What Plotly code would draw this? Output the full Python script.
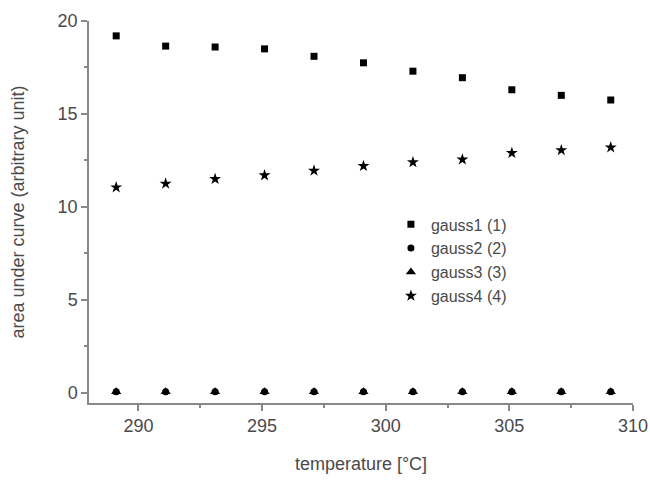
import plotly.graph_objects as go

temperature = [289.1, 291.1, 293.1, 295.1, 297.1, 299.1, 301.1, 303.1, 305.1, 307.1, 309.1]
gauss1 = [19.2, 18.65, 18.6, 18.5, 18.1, 17.75, 17.3, 16.95, 16.3, 16.0, 15.75]
gauss2 = [0.05, 0.05, 0.05, 0.05, 0.05, 0.05, 0.05, 0.05, 0.05, 0.05, 0.05]
gauss3 = [0.05, 0.05, 0.05, 0.05, 0.05, 0.05, 0.05, 0.05, 0.05, 0.05, 0.05]
gauss4 = [11.05, 11.25, 11.5, 11.7, 11.95, 12.2, 12.4, 12.55, 12.9, 13.05, 13.2]

fig = go.Figure()
fig.add_trace(go.Scatter(x=temperature, y=gauss1, mode="markers", name="gauss1 (1)",
                         marker=dict(symbol="square", size=7, color="black")))
fig.add_trace(go.Scatter(x=temperature, y=gauss2, mode="markers", name="gauss2 (2)",
                         marker=dict(symbol="circle", size=7, color="black")))
fig.add_trace(go.Scatter(x=temperature, y=gauss3, mode="markers", name="gauss3 (3)",
                         marker=dict(symbol="triangle-up", size=9, color="black")))
fig.add_trace(go.Scatter(x=temperature, y=gauss4, mode="markers", name="gauss4 (4)",
                         marker=dict(symbol="star", size=9, color="black")))

TXT = "#4a4a4a"
LINE = "#888888"
minor_common = dict(ticks="outside", ticklen=3, tickwidth=1.5, tickcolor=LINE, dtick=2.5)
axis_common = dict(showgrid=False, zeroline=False, showline=True, linecolor=LINE, linewidth=1.5,
                   ticks="outside", ticklen=6, tickwidth=1.5, tickcolor=LINE,
                   tickfont=dict(size=18, color=TXT), automargin=False)

fig.update_layout(
    width=650, height=480,
    margin=dict(l=89, r=17, t=21, b=77),
    paper_bgcolor="white", plot_bgcolor="white",
    font=dict(family="Liberation Sans, Arial, sans-serif", color=TXT),
    xaxis=dict(range=[288, 310], tickvals=[290, 295, 300, 305, 310],
               title=dict(text="temperature [°C]", font=dict(size=18, color=TXT), standoff=22),
               minor=dict(tick0=287.5, **minor_common), **axis_common),
    yaxis=dict(range=[-0.55, 20], tickvals=[0, 5, 10, 15, 20],
               title=dict(text="area under curve (arbitrary unit)", font=dict(size=18, color=TXT), standoff=28),
               minor=dict(tick0=0, **minor_common), **axis_common),
    legend=dict(x=0.555, y=0.512, xanchor="left", yanchor="top", bgcolor="rgba(0,0,0,0)",
                font=dict(size=16, color=TXT), tracegroupgap=0, itemwidth=30),
    showlegend=True,
)

fig.write_html("out.html", config={"displayModeBar": False},
               post_script="document.body.style.margin='0';document.body.style.overflow='hidden';")
